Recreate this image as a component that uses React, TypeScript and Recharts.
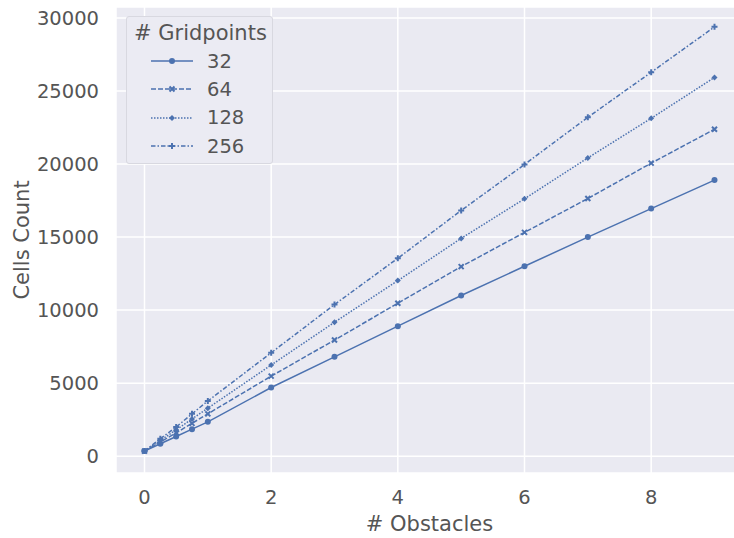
import {
  LineChart,
  Line,
  XAxis,
  YAxis,
  CartesianGrid,
  Legend,
} from "recharts";

const obstacles = [0, 0.25, 0.5, 0.75, 1, 2, 3, 4, 5, 6, 7, 8, 9];
const cells32 = [350, 850, 1350, 1850, 2350, 4700, 6800, 8900, 11000, 13000, 15000, 16950, 18900];
const cells64 = [350, 980, 1600, 2250, 2900, 5480, 7950, 10470, 12980, 15320, 17640, 20060, 22380];
const cells128 = [350, 1080, 1800, 2550, 3290, 6240, 9170, 12020, 14910, 17620, 20420, 23130, 25930];
const cells256 = [350, 1200, 2000, 2900, 3780, 7080, 10380, 13550, 16820, 19970, 23200, 26280, 29390];

const gridpoints = ["32", "64", "128", "256"];
const xTicks = [0, 2, 4, 6, 8];
const yTicks = [0, 5000, 10000, 15000, 20000, 25000, 30000];

const blue = "#4c72b0";
const textColor = "#555";
const font = "DejaVu Sans, sans-serif";

const chartData = obstacles.map((x, i) => ({
  x,
  g32: cells32[i],
  g64: cells64[i],
  g128: cells128[i],
  g256: cells256[i],
}));

const dashes = ["", "5 2", "1.5 1.5", "4.5 2 1.5 2"];
const keys = ["g32", "g64", "g128", "g256"];

const Marker = ({ cx, cy, kind }: { cx?: number; cy?: number; kind: number }) => {
  if (cx == null || cy == null) return null;
  if (kind === 0) return <circle cx={cx} cy={cy} r={3} fill={blue} />;
  if (kind === 1)
    return (
      <path
        d={`M${cx - 2.5},${cy - 2.5}L${cx + 2.5},${cy + 2.5}M${cx + 2.5},${cy - 2.5}L${cx - 2.5},${cy + 2.5}`}
        stroke={blue}
        strokeWidth={2}
      />
    );
  if (kind === 2)
    return <path d={`M${cx},${cy - 3}L${cx + 3},${cy}L${cx},${cy + 3}L${cx - 3},${cy}Z`} fill={blue} />;
  return (
    <path
      d={`M${cx - 3},${cy}L${cx + 3},${cy}M${cx},${cy - 3}L${cx},${cy + 3}`}
      stroke={blue}
      strokeWidth={2}
    />
  );
};

const renderLegend = () => (
  <div
    style={{
      width: 147,
      height: 148,
      boxSizing: "border-box",
      background: "#ebebf3",
      border: "1px solid #d8d8e0",
      borderRadius: 3,
      fontFamily: font,
      fontSize: 19.5,
      color: textColor,
      padding: "4px 0 0 7px",
    }}
  >
    <div style={{ height: 26, lineHeight: "24px", fontSize: 21 }}># Gridpoints</div>
    {gridpoints.map((g, i) => (
      <div key={g} style={{ display: "flex", alignItems: "center", height: 28.3 }}>
        <svg width={58} height={12} style={{ marginLeft: 17 }}>
          <line
            x1={0}
            y1={6}
            x2={42}
            y2={6}
            stroke={blue}
            strokeWidth={1.5}
            strokeDasharray={dashes[i]}
          />
          <Marker cx={21} cy={6} kind={i} />
        </svg>
        <span style={{ marginLeft: -2 }}>{g}</span>
      </div>
    ))}
  </div>
);

export default function App() {
  return (
    <div
      style={{
        position: "absolute",
        left: 0,
        top: 0,
        width: 734,
        height: 538,
        overflow: "hidden",
        background: "#fff",
      }}
    >
      <LineChart
        width={760}
        height={538}
        data={chartData}
        margin={{ top: 7, right: 17, bottom: 0, left: 0 }}
      >
        <CartesianGrid stroke="#fff" strokeWidth={1.5} fill="#eaeaf2" />
        <XAxis
          dataKey="x"
          type="number"
          domain={[-0.45, 9.45]}
          ticks={xTicks}
          allowDataOverflow
          axisLine={false}
          tickLine={false}
          tickSize={0}
          tickMargin={17}
          height={65}
          tick={{ fill: textColor, fontSize: 19.5, fontFamily: font }}
          label={{
            value: "# Obstacles",
            position: "insideBottom",
            offset: 7,
            fill: textColor,
            fontSize: 21,
            fontFamily: font,
          }}
        />
        <YAxis
          type="number"
          domain={[-1150, 30750]}
          ticks={yTicks}
          allowDataOverflow
          axisLine={false}
          tickLine={false}
          tickSize={0}
          tickMargin={17}
          width={116}
          tick={{ fill: textColor, fontSize: 19.5, fontFamily: font }}
          label={{
            value: "Cells Count",
            angle: -90,
            position: "center",
            dx: -36,
            fill: textColor,
            fontSize: 21,
            fontFamily: font,
          }}
        />
        <Legend
          layout="horizontal"
          verticalAlign="middle"
          align="center"
          content={renderLegend}
          wrapperStyle={{ left: 126, top: 16, width: 147, height: 148 }}
        />
        {keys.map((k, i) => (
          <Line
            key={k}
            dataKey={k}
            name={gridpoints[i]}
            type="linear"
            stroke={blue}
            strokeWidth={1.5}
            strokeDasharray={dashes[i]}
            dot={(p: any) => <Marker key={`${k}-${p.index}`} cx={p.cx} cy={p.cy} kind={i} />}
            activeDot={false}
            isAnimationActive={false}
          />
        ))}
      </LineChart>
    </div>
  );
}
